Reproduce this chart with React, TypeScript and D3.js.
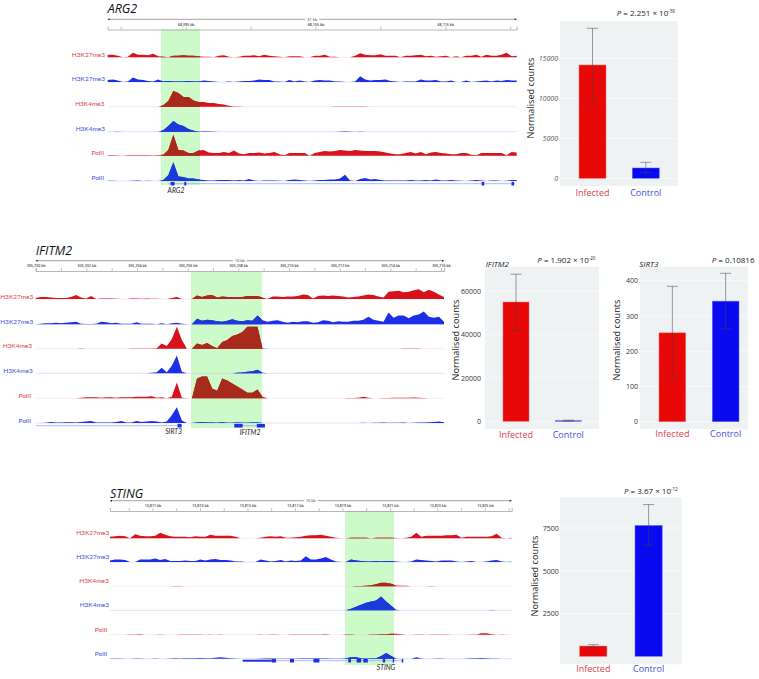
import React, { useEffect, useRef } from 'react';
import * as d3 from 'd3';

const FONT = '"Open Sans", sans-serif';
const LABEL_FONT = 'Lato, sans-serif';
const RED = '#d8121c';
const BLUE = '#1c2ee6';
const DARK_RED = '#a82a1c';
const DARK_BLUE = '#1c3ad8';
const RED_TEXT = '#d9434d';
const BLUE_TEXT = '#4450d8';

const trackNames = ['H3K27me3', 'H3K27me3', 'H3K4me3', 'H3K4me3', 'PolII', 'PolII'];
const categories = ['Infected', 'Control'];

// ARG2 signal, one sample every 5px of track
const arg2K27Red = [3,3,2,0,1,5,3,3,2.5,4,1.5,1,0.5,2,2,2.5,2,2,1.5,1,1,0.5,2,2.5,1,0.5,1,2,2,2.5,1.5,3,2,1.5,1,0.5,1.5,1.5,1.5,0.5,0,2,2,3,1,1,0,0.5,0.5,2,4.5,3,2.5,2.5,3.5,2,2,2,0.5,2,2,2.5,3,1.5,2,1,1.5,2,0.5,1.5,0.5,2,2,3,1,3,2,2,3,5,1.5,2];
const arg2K27Blue = [2.5,3,2,0.5,1,5,3,2.5,1.5,1,3,1,1.5,1,1,1,1.5,1,1,2,1.5,1,0.5,0.5,1,0.5,1,1.5,1.5,2,3,2.5,2.5,1,1,0.5,2.5,1,2,1,0,2,2.5,2,2,1,1,0.5,0.5,1,6,3,2,2.5,2.5,3,1.5,1,0.5,1,1,1,3,2,2,2.5,1,1,2,0.5,0.5,2,0.5,1,1.5,2,1,2,1.5,2.5,2,2];
const arg2K4Red = [0.2,0.3,0.2,0.2,0.3,0.2,0.3,0.2,0.2,0.3,0.2,2,6,16,14,10,10,6.5,5,5,4,4,3,2.5,1.5,0.5,0.4,0.3,0.3,0.2,0.3,0.2,0.3,0.3,0.2,0.2,0.3,0.3,0.2,0.3,0.3,0.2,0.3,0.3,0.2,0.4,0.5,0.4,0.5,0.5,0.6,0.4,0.3,0.3,0.2,0.3,0.3,0.2,0.3,0.2,0.3,0.2,0.3,0.2,0.3,0.2,0.3,0.2,0.2,0.3,0.2,0.3,0.2,0.2,0.3,0.2,0.3,0.2,0.2,0.3,0.2,0.2];
const arg2K4Blue = [0.2,0.3,0.4,0.3,0.2,0.2,0.3,0.2,0.2,0.2,0.2,2,6,11,7.5,6,3,1.5,0.5,1,1,0.6,0.2,0.2,0.2,0.2,0.2,0.2,0.2,0.2,0.2,0.2,0.2,0.2,0.2,0.2,0.2,0.2,0.2,0.2,0.2,0.2,0.2,0.3,0.3,0.3,0.5,0.8,0.5,0.3,0.4,0.3,0.2,0.3,0.3,0.2,0.2,0.2,0.2,0.2,0.2,0.2,0.2,0.2,0.2,0.2,0.2,0.2,0.2,0.2,0.2,0.2,0.2,0.2,0.2,0.2,0.2,0.2,0.2,0.3,0.2,0.2];
const arg2PolRed = [0.8,1,0.5,0,0.8,1,1,0.8,0.8,0.5,1,1.5,6,21,6,5.5,3,3,5.5,6,3.5,3,3,4,3,5.5,2.5,2,3,3,3.5,2.5,3,4,2,1,3,3,3,3,0,3,4,5,4.5,5,6,5.5,5,6,5.5,5,5,5,4.5,3.5,2.5,2,2,3,4,2.5,4,2,3.5,4,3,2.5,2,2,3,3,1.5,1,3,3,3,3,3,1,4,3.5];
const arg2PolBlue = [0.8,0.8,0.5,0,0.3,0.6,1,0.5,0.8,0.3,0.3,1.5,6,19,5,4.5,3,3,2,1.5,1,1,1.5,1.5,1.5,1,1.5,1,2.5,1,0.5,1,1,1,0.8,0.5,1.5,2,1.5,1,0,1,1.5,1.5,2,2,3,6.5,1,0.5,2.5,3.5,2,2.5,1.5,1,1,1,1,1,1.5,1,1,1.5,1,2,1,1,1.5,1,0.8,0.5,1,1.5,1,0.5,1,1,0.5,0.8,1.5,1.5];

// IFITM2 / SIRT3 signal
const ifitmK27Red = [1.5,2.5,2.5,2,1.5,1.5,1.5,2.5,4.5,2,1,3.5,0.5,1,1,1,0.8,0.5,0.3,1,1,0.8,1,0.8,0.8,0.2,0.2,1.5,2.5,0.5,0,0,4,2.5,4,4.5,2,3,2.5,2.5,2.5,2.5,3.5,3.5,3.5,2,0.5,3,3,2.5,3,3,3.5,5,4.5,1,3.5,4,3.5,4,3.5,3,2,2.5,3,4,5,4.5,3,2,7.5,8,8.5,7,7.5,9,10,7,9.5,7.5,5,2.5];
const ifitmK27Blue = [0.5,1,1.5,1.5,2,1.5,2,2.5,3,1,0.8,0.8,1,3,2.5,1.5,2,1,1,1,2.5,1,1,1,0.3,1.5,0.5,1.5,2,1,0,0.5,6,4,5,4.5,3.5,3,4,5.5,4,3.5,4.5,4,9,4.5,3,4,4.5,3,2,3,2.5,3.5,3.5,2,2.5,4.5,4,2.5,3.5,3,3,4,4,5,8,5,4,3,12,7,9,9,6.5,9,10,13,8,7,8,3];
const ifitmK4Red = [0.3,0.3,0.3,0.3,0.3,0.3,0.3,0.3,0.3,0.4,0.3,0.3,0.3,0.3,0.3,0.3,0.3,0.3,0.3,0.4,0.4,0.4,0.4,0.5,0.8,5.5,3,10,22,9,0,0,5.5,4,6,3,1,7,9,13,14.5,17,22,22,22,1,0.3,0.3,0.3,0.3,0.3,0.3,0.3,0.3,0.3,0.3,0.3,0.3,0.3,0.3,0.3,0.3,0.3,0.3,0.3,0.3,0.3,0.3,0.3,0.3,0.3,0.3,0.3,0.5,0.5,0.5,0.5,0.3,0.3,0.3,0.3,0.3];
const ifitmK4Blue = [0.2,0.2,0.2,0.2,0.3,0.3,0.3,0.3,0.6,0.5,0.3,0.2,0.3,0.2,0.2,0.2,0.2,0.2,0.2,0.3,0.2,0.2,0.2,1,1.5,6,1.5,8,18,2,0,0.2,0.5,0.5,0.5,0.4,0.3,0.5,0.5,0.6,1,1.2,2,2.5,4,1,0.3,0.3,0.3,0.3,0.3,0.4,0.3,0.3,0.3,0.3,0.3,0.4,0.3,0.3,0.3,0.3,0.3,0.3,0.3,0.3,0.3,0.3,0.3,0.3,0.3,0.3,0.3,0.4,0.3,0.3,0.3,0.4,0.3,0.3,0.3,0.3];
const ifitmPolRed = [0.5,0.5,0.5,0.3,0.5,0.5,0.5,0.5,0.5,1,1.5,1.5,1.5,1,1.5,1.5,1,1.5,1.5,1.5,2,2,2,2.5,1,1.5,0.5,2,16,1,0,0,20,22,22,10,8,20,18,15,12,9,6,6,9,2,0.3,0.5,0.5,0.5,0.3,0.5,0.5,0.5,0.3,0.5,0.5,0.5,0.5,0.3,0.5,0.5,0.8,0.8,1,2,1,0.5,0.5,0.8,0.8,1,1,1,1,1.2,1,0.8,0.5,0.5,0.5,0.5];
const ifitmPolBlue = [0.5,0.5,0.8,1.5,1,1,1.2,1.2,1,1.5,2,2.5,1,1,1,1,1.5,2.5,1,1,2.5,1.5,2,2.5,2,1,2,8,16,3,0,0,1,1.2,1,1,0.8,1.2,0.8,0.8,1,0.8,0.8,1,1,0.5,0.3,0.3,0.3,0.5,0.3,0.3,0.5,0.5,0.3,0.4,0.3,0.5,0.5,0.3,0.5,0.5,0.5,0.5,0.5,0.8,0.5,0.8,0.8,1,0.8,0.8,0.8,1,0.5,0.8,1,1,1.2,1.5,2,1.2];

// STING signal
const stingK27Red = [2,2.5,3,2.5,0.5,4.5,3,2.5,2.5,3,6,4,2.5,2,2,2,1.5,2.5,2,2,4,3,3,3,3,2,0.5,0,0,0,1,2,2.5,2,2.5,1,1,1.5,2,3,3.5,3.5,4,3,2,1,0.3,0,1,1,1,1,0.5,1,1,1,1,0.8,0.5,1,2,6,2,3,3,3,3,3.5,3.5,4,1,2,2,2,2,2,2.5,5,1,0.5,1];
const stingK27Blue = [2,3,3,2.5,0.5,0.5,3,3,3,4,2.5,3.5,1.5,1.5,1.5,2,1.5,1.5,3,2,3,3.5,2.5,2.5,2,1,1,0.5,0.2,0,3,2,1,1.5,2.5,1,2,1.5,2,6,3,3,4,5.5,3,1,0.2,0.2,3,2,1.5,1,1,1.5,1,1.5,1.5,1,0.5,0.3,1,3,2.5,2,1.5,1,2,2,2,1,0.5,1,1.5,0.5,0.5,1,2,2.5,1,0.5,0.8];
const stingK4Red = [0.2,0.3,0.2,0.3,0.2,0.4,0.3,0.2,0.4,0.2,0.3,0.2,0.3,0.7,0.8,0.6,0.3,0.5,0.4,0.4,0.3,0.3,0.4,0.2,0.2,0.2,0,0,0,0.2,0.5,0.5,0.4,0.4,0.2,0.2,0.3,0.4,0.3,0.4,0.5,0.6,0.6,0.5,0.3,0.2,0.2,0.3,0.6,0.8,0.7,1,1.5,2.5,4,4,3,1.2,1,1,0.5,0.3,0.4,0.6,0.7,0.3,0.5,0.6,0.6,0.2,0.2,0.4,0.5,0.6,0.3,0.4,0.6,0.4,0.2,0.2,0.2];
const stingK4Blue = [0.3,0.5,0.3,0.2,0.3,0.3,0.4,0.3,0.2,0.3,0.3,0.2,0.3,0.3,0.4,0.3,0.2,0.3,0.3,0.2,0.3,0.3,0.2,0.3,0.2,0.2,0,0,0.2,0.3,0.3,0.3,0.3,0.3,0.2,0.3,0.2,0.3,0.3,0.3,0.3,0.3,0.4,0.5,0.6,0.4,0.3,0.5,2,4,6,8,9,10,14,9,5,1,0.5,0.4,0.3,0.3,0.3,0.3,0.3,0.3,0.3,0.3,0.3,0.3,0.3,0.4,0.3,0.3,0.3,0.5,0.8,0.6,0.3,0.3,0.3];
const stingPolRed = [0,0.1,0.3,0.1,0.4,0.7,0.9,0.2,0.1,0.3,0.5,0.3,0.2,0.1,0.4,0.6,0.7,0.5,0.4,0.3,0.5,0.3,0.4,0.1,0.2,0,0,0,0,0.3,0.4,0.1,0.4,0.5,0.2,0.3,0.5,0.4,0.5,0.4,0.5,0.5,0.6,0.8,0.2,0.1,0,0.5,0.4,0.3,0.2,0.2,0.5,0.6,0.8,1,1.5,1.5,0.8,0.1,0.3,0.5,0.4,0.3,0.4,0.5,0.5,0.4,0.1,0.2,0.1,0.3,0.5,0.7,1.8,2,0.9,0.3,0.4,0.3,0.1];
const stingPolBlue = [0.6,0.7,0.5,0.3,0.2,0.6,0.5,0.2,0.3,0.5,0.3,0.1,0.4,0.8,0.6,0.8,1,1,1.2,1,1,1.5,2,1.5,1,0.5,0.1,0,0,0.2,0.5,0.8,0.8,0.6,0.5,0.5,0.6,0.6,0.8,0.8,0.8,0.8,1,1,0.7,0.5,0.5,1,2,2,1,0.5,0.8,1,3,6,3,0.6,0.3,0.1,0.2,2,0.5,0,0.1,0.5,0.4,0.1,0.2,0.1,0.2,0.5,0.8,1,1.2,0.8,0.5,0.4,0.1,0,0];

const arg2Signal = [arg2K27Red, arg2K27Blue, arg2K4Red, arg2K4Blue, arg2PolRed, arg2PolBlue];
const ifitmSignal = [ifitmK27Red, ifitmK27Blue, ifitmK4Red, ifitmK4Blue, ifitmPolRed, ifitmPolBlue];
const stingSignal = [stingK27Red, stingK27Blue, stingK4Red, stingK4Blue, stingPolRed, stingPolBlue];

// gene models, kb from the left end of each browser view
const arg2Genes = [{ name: 'ARG2', span: [4.67, 31.4], exons: [[4.85, 5.15], [5.9, 6.05], [28.8, 29.0], [31.1, 31.3]], thin: [] as number[][] }];
const sirt3Genes = { name: 'SIRT3', span: [0, 5.76], exons: [[5.6, 5.76]], thin: [] as number[][] };
const ifitm2Genes = { name: 'IFITM2', span: [7.84, 9.05], exons: [[7.84, 8.17], [8.73, 9.05]], thin: [] as number[][] };
const stingGenes = { name: 'STING', span: [5.59, 12.35], exons: [[6.81, 6.99], [7.58, 7.75], [8.57, 8.82], [10.04, 10.15], [10.39, 10.58], [10.67, 10.86], [11.49, 11.59], [11.91, 11.97], [12.29, 12.35]], thin: [[5.59, 6.81]] };

const arg2Counts = { mean: [14160, 1290], low: [9580, 700], high: [18750, 2000] };
const ifitm2Counts = { mean: [55060, 300], low: [41900, 100], high: [67900, 500] };
const sirt3Counts = { mean: [252, 342], low: [120, 263], high: [384, 421] };
const stingCounts = { mean: [600, 7650], low: [520, 6490], high: [680, 8870] };

const arg2YTicks = [0, 5000, 10000, 15000];
const ifitm2YTicks = [0, 20000, 40000, 60000];
const sirt3YTicks = [0, 100, 200, 300, 400];
const stingYTicks = [2500, 5000, 7500];

const browsers = [
  {
    title: 'ARG2', titleSize: 12.5, titleY: 12.7, x0: 107.7, x1: 516.7, kb: 31.5, sizeLabel: '31 kb', rulerY: 19.3, axisY: 29.5,
    tickStart: 1, tickStep: 5, firstLabel: 1, labelBase: 68090, band: [161, 200], bandY: [29.5, 185],
    bases: [57.3, 82, 106.7, 131.7, 155.7, 181], labelRight: [105, 105, 104.5, 105, 104, 104], labelUp: 2.3,
    signal: arg2Signal, geneY: 183.7,
    genes: arg2Genes, geneLabels: [{ text: 'ARG2', x: 176, y: 191 }],
  },
  {
    title: 'IFITM2', titleSize: 12.5, titleY: 255, x0: 35.7, x1: 444, kb: 16.12, sizeLabel: '16 kb', rulerY: 260.7, axisY: 271,
    tickStart: 0, tickStep: 1, firstLabel: 0, labelBase: 305200, band: [191, 262], bandY: [271.7, 428],
    bases: [299, 324.3, 348.7, 373.3, 398.3, 423], labelRight: [33.3, 33.3, 32, 32.7, 31, 31], labelUp: 2.1,
    signal: ifitmSignal, geneY: 425.7,
    genes: [sirt3Genes, ifitm2Genes], geneLabels: [{ text: 'SIRT3', x: 173.5, y: 432 }, { text: 'IFITM2', x: 250, y: 433 }],
  },
  {
    title: 'STING', titleSize: 12.5, titleY: 498, x0: 110, x1: 511.7, kb: 16.92, sizeLabel: '16 kb', rulerY: 500.7, axisY: 511,
    tickStart: 0.79, tickStep: 1, firstLabel: 1, labelBase: 13810, band: [345, 394], bandY: [511, 665],
    bases: [538.3, 562, 586.3, 610.3, 634.7, 658.7], labelRight: [109.3, 109.3, 108.7, 109, 107.3, 107.3], labelUp: 4.5,
    signal: stingSignal, geneY: 660.7,
    genes: [stingGenes], geneLabels: [{ text: 'STING', x: 386, y: 668.7 }],
  },
];

const barPanels = [
  {
    counts: arg2Counts, ticks: arg2YTicks, top: 15000, yZero: 178.3, yTop: 58.3, plot: [560, 21, 677.7, 186], bars: [579, 632.3], barW: 27,
    axisRight: 558, tickFill: '#555', tickItalic: true, titleX: 531.7, titleY: 98, catY: 193.5,
    p: { x: 616.7, y: 16, text: '2.251 × 10', exp: '-38' },
  },
  {
    counts: ifitm2Counts, ticks: ifitm2YTicks, top: 60000, yZero: 421.3, yTop: 291.3, plot: [485, 266.7, 599, 429], bars: [503, 555.3], barW: 26,
    axisRight: 481, tickFill: '#333', tickItalic: false, titleX: 457, titleY: 340, catY: 435.5,
    gene: { text: 'IFITM2', x: 485.7, y: 266.7 },
    p: { x: 537.3, y: 263.3, text: '1.902 × 10', exp: '-20' },
  },
  {
    counts: sirt3Counts, ticks: sirt3YTicks, top: 400, yZero: 421.7, yTop: 280.7, plot: [640, 266.7, 748, 429], bars: [659, 712.3], barW: 26.7,
    axisRight: 638, tickFill: '#333', tickItalic: false, titleX: 617.3, titleY: 340, catY: 434.5,
    gene: { text: 'SIRT3', x: 639.3, y: 266.7 },
    p: { x: 711.7, y: 263.3, text: '0.10816', exp: '' },
  },
  {
    counts: stingCounts, ticks: stingYTicks, top: 7500, yZero: 656.3, yTop: 528, plot: [560, 497.3, 681.7, 664.3], bars: [579.7, 635], barW: 27.2,
    axisRight: 558.7, tickFill: '#333', tickItalic: false, titleX: 535.3, titleY: 576, catY: 670,
    p: { x: 624, y: 494, text: '3.67 × 10', exp: '-12' },
  },
];

export default function App() {
  const svgRef = useRef<SVGSVGElement>(null);

  useEffect(() => {
    const svg = d3.select(svgRef.current);
    svg.selectAll('*').remove();
    svg.style('font-family', FONT);

    browsers.forEach((b, bi) => {
      const x = d3.scaleLinear().domain([0, b.kb]).range([b.x0, b.x1]);
      const g = svg.append('g');

      // highlight band goes under the tracks
      g.append('rect')
        .attr('x', b.band[0])
        .attr('y', b.bandY[0])
        .attr('width', b.band[1] - b.band[0])
        .attr('height', b.bandY[1] - b.bandY[0])
        .attr('fill', '#ccfac8');

      g.append('clipPath')
        .attr('id', `band-${bi}`)
        .append('rect')
        .attr('x', b.band[0])
        .attr('y', b.bandY[0])
        .attr('width', b.band[1] - b.band[0])
        .attr('height', b.bandY[1] - b.bandY[0]);

      g.append('text')
        .attr('x', b.x0)
        .attr('y', b.titleY)
        .attr('font-size', b.titleSize)
        .attr('font-style', 'italic')
        .attr('fill', '#111')
        .text(b.title);

      // size ruler
      const mid = (b.x0 + b.x1) / 2;
      g.append('line')
        .attr('x1', b.x0)
        .attr('x2', b.x1)
        .attr('y1', b.rulerY)
        .attr('y2', b.rulerY)
        .attr('stroke', '#666')
        .attr('stroke-width', 0.6);
      [b.x0, b.x1].forEach((px, i) => {
        const dir = i === 0 ? 1 : -1;
        g.append('path')
          .attr('d', `M${px},${b.rulerY}l${dir * 2},-1v2z`)
          .attr('fill', '#222');
      });
      g.append('rect')
        .attr('x', mid - 7)
        .attr('y', b.rulerY - 2.5)
        .attr('width', 14)
        .attr('height', 5)
        .attr('fill', '#fff');
      g.append('text')
        .attr('x', mid)
        .attr('y', b.rulerY + 1.3)
        .attr('text-anchor', 'middle')
        .attr('font-size', 3.8)
        .attr('fill', '#333')
        .text(b.sizeLabel);

      // coordinate axis
      const tickValues = d3.range(b.tickStart, b.kb + 0.01, b.tickStep);
      const axis = d3
        .axisTop(x)
        .tickValues(tickValues)
        .tickSize(3)
        .tickPadding(1)
        .tickFormat((d, i) =>
          (i - b.firstLabel) % 2 === 0
            ? `${d3.format(',')(Math.round(b.labelBase + (+d - b.tickStart) * 1))} kb`
            : ''
        );
      const ag = g.append('g').attr('transform', `translate(0,${b.axisY})`).call(axis as any);
      ag.select('.domain').attr('stroke', '#888').attr('stroke-width', 0.6);
      ag.selectAll('.tick line').attr('stroke', '#888').attr('stroke-width', 0.5);
      ag.selectAll('.tick text').attr('font-size', 3.6).attr('font-family', FONT).attr('font-weight', 600).attr('fill', '#444');

      // tracks
      b.signal.forEach((values, ti) => {
        const isRed = ti % 2 === 0;
        const base = b.bases[ti];
        const sx = d3.scaleLinear().domain([0, values.length - 1]).range([b.x0, b.x1]);
        // squeeze the noise floor so quiet stretches stay pale
        const sy = d3.scaleLinear().domain([0, 0.6, 30]).range([base, base - 0.15, base - 30]);
        const area = d3
          .area<number>()
          .x((_, i) => sx(i))
          .y0(base)
          .y1((d) => sy(d));

        g.append('line')
          .attr('x1', b.x0)
          .attr('x2', b.x1)
          .attr('y1', base)
          .attr('y2', base)
          .attr('stroke', isRed ? '#f3d3d5' : '#bcc4f4')
          .attr('stroke-width', 0.5);
        g.append('path').datum(values).attr('d', area).attr('fill', isRed ? RED : BLUE);
        g.append('path')
          .datum(values)
          .attr('d', area)
          .attr('fill', isRed ? DARK_RED : DARK_BLUE)
          .attr('clip-path', `url(#band-${bi})`);

        g.append('text')
          .attr('x', b.labelRight[ti])
          .attr('y', base - b.labelUp)
          .attr('text-anchor', 'end')
          .attr('dominant-baseline', 'middle')
          .attr('font-family', LABEL_FONT)
          .attr('font-size', 6.5)
          .attr('fill', isRed ? RED_TEXT : BLUE_TEXT)
          .text(trackNames[ti]);
      });

      // gene models
      b.genes.forEach((gene) => {
        g.append('line')
          .attr('x1', x(gene.span[0]))
          .attr('x2', x(gene.span[1]))
          .attr('y1', b.geneY)
          .attr('y2', b.geneY)
          .attr('stroke', '#9aa8f0')
          .attr('stroke-width', 0.8);
        gene.thin.forEach((t) => {
          g.append('rect')
            .attr('x', x(t[0]))
            .attr('width', x(t[1]) - x(t[0]))
            .attr('y', b.geneY - 1)
            .attr('height', 2)
            .attr('fill', '#1c2ee6');
        });
        gene.exons.forEach((e) => {
          g.append('rect')
            .attr('x', x(e[0]))
            .attr('width', Math.max(x(e[1]) - x(e[0]), 1))
            .attr('y', b.geneY - 1.8)
            .attr('height', 3.6)
            .attr('fill', '#1c2ee6');
        });
      });
      b.geneLabels.forEach((l) => {
        g.append('text')
          .attr('x', l.x)
          .attr('y', l.y)
          .attr('text-anchor', 'middle')
          .attr('dominant-baseline', 'middle')
          .attr('font-family', LABEL_FONT)
          .attr('font-size', 6.8)
          .attr('font-style', 'italic')
          .attr('fill', '#222')
          .text(l.text);
      });
    });

    barPanels.forEach((p) => {
      const y = d3.scaleLinear().domain([0, p.top]).range([p.yZero, p.yTop]);
      const g = svg.append('g');
      const [px0, py0, px1, py1] = p.plot;

      g.append('rect')
        .attr('x', px0)
        .attr('y', py0)
        .attr('width', px1 - px0)
        .attr('height', py1 - py0)
        .attr('fill', '#eef2f3');

      // faint gridlines
      p.ticks.forEach((t) => {
        g.append('line')
          .attr('x1', px0)
          .attr('x2', px1)
          .attr('y1', y(t))
          .attr('y2', y(t))
          .attr('stroke', '#fff')
          .attr('stroke-width', 0.6);
      });

      const axis = d3.axisLeft(y).tickValues(p.ticks).tickSize(0).tickPadding(0).tickFormat(d3.format('d') as any);
      const ag = g.append('g').attr('transform', `translate(${p.axisRight},0)`).call(axis);
      ag.select('.domain').remove();
      ag.selectAll('.tick text')
        .attr('font-size', 7)
        .attr('font-family', FONT)
        .attr('font-style', p.tickItalic ? 'italic' : 'normal')
        .attr('fill', p.tickFill);

      g.append('text')
        .attr('transform', `translate(${p.titleX},${p.titleY}) rotate(-90)`)
        .attr('text-anchor', 'middle')
        .attr('dominant-baseline', 'middle')
        .attr('font-size', 9.2)
        .attr('fill', '#222')
        .text('Normalised counts');

      categories.forEach((cat, i) => {
        const bx = p.bars[i];
        const cx = bx + p.barW / 2;
        g.append('rect')
          .attr('x', bx)
          .attr('width', p.barW)
          .attr('y', y(p.counts.mean[i]))
          .attr('height', y(0) - y(p.counts.mean[i]))
          .attr('fill', i === 0 ? '#e80808' : '#0a0af0')
          .attr('stroke', i === 0 ? '#f46a6a' : '#6a6af4')
          .attr('stroke-width', 0.5);

        // error bars
        const hi = y(p.counts.high[i]);
        const lo = y(p.counts.low[i]);
        const err = g.append('g').attr('stroke', '#444').attr('stroke-opacity', 0.65).attr('stroke-width', 0.8);
        err.append('line').attr('x1', cx).attr('x2', cx).attr('y1', hi).attr('y2', lo);
        err.append('line').attr('x1', cx - 5.5).attr('x2', cx + 5.5).attr('y1', hi).attr('y2', hi);
        err.append('line').attr('x1', cx - 5.5).attr('x2', cx + 5.5).attr('y1', lo).attr('y2', lo);

        g.append('text')
          .attr('x', cx)
          .attr('y', p.catY)
          .attr('text-anchor', 'middle')
          .attr('dominant-baseline', 'middle')
          .attr('font-size', 9)
          .attr('fill', i === 0 ? RED_TEXT : BLUE_TEXT)
          .text(cat);
      });

      const pt = g.append('text').attr('x', p.p.x).attr('y', p.p.y).attr('font-size', 8).attr('fill', '#222');
      pt.append('tspan').attr('font-style', 'italic').text('P');
      pt.append('tspan').text(` = ${p.p.text}`);
      if (p.p.exp) {
        pt.append('tspan').attr('font-size', 4.5).attr('dy', -3).text(p.p.exp);
      }

      if (p.gene) {
        g.append('text')
          .attr('x', p.gene.x)
          .attr('y', p.gene.y)
          .attr('font-size', 8)
          .attr('font-style', 'italic')
          .attr('fill', '#222')
          .text(p.gene.text);
      }
    });
  }, []);

  return <svg ref={svgRef} width={759} height={679} style={{ position: 'absolute', left: 0, top: 0, background: '#fff' }} />;
}
